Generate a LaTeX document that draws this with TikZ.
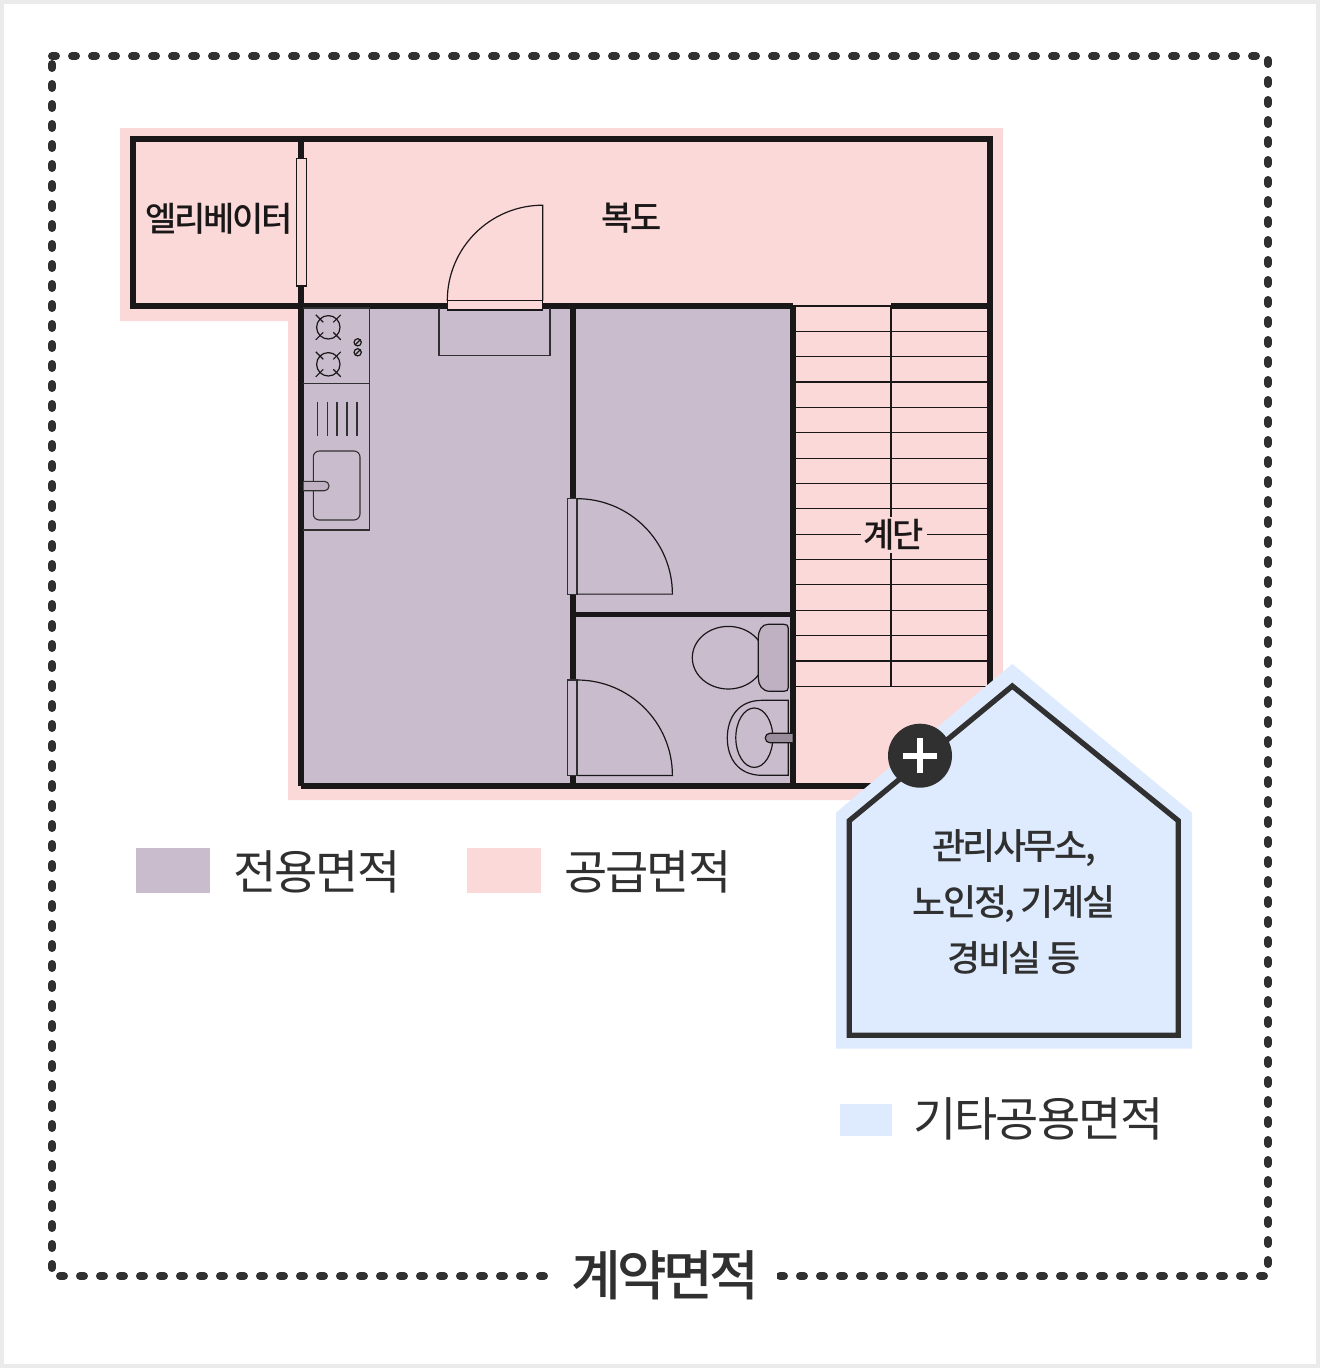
\documentclass[tikz,border=0pt]{standalone}
\usepackage{fontspec}
\setmainfont{Noto Sans CJK KR}[LetterSpace=-4]
\newfontfamily\medfont{Noto Sans CJK KR Medium}[LetterSpace=-7]
\usetikzlibrary{positioning}
\definecolor{privatePurple}{HTML}{C9BDCD}
\definecolor{supplyPink}{HTML}{FCD9D9}
\definecolor{otherBlue}{HTML}{DEEBFE}
\definecolor{wallBlack}{HTML}{1A1718}
\definecolor{inkGray}{HTML}{303030}
\definecolor{fixtureGray}{HTML}{BFB0C2}

\begin{document}
\begin{tikzpicture}[x=1pt, y=-1pt,
    wall/.style={draw=wallBlack, line width=5.6pt, miter limit=10},
    fine/.style={draw=wallBlack, line width=1.2pt},
    fixture/.style={draw=inkGray, line width=1.1pt},
    legendText/.style={font=\fontsize{47}{50}\selectfont, text=inkGray, inner sep=0pt},
    planText/.style={font=\medfont\fontsize{34}{38}\selectfont, text=wallBlack, inner sep=0pt},
    swatch/.style={inner sep=0pt, minimum width=74pt, minimum height=45pt}]
    \useasboundingbox (0,0) rectangle (1320,1368);
    \fill[black!8] (0,0) rectangle (1320,1368);
    \fill[white] (4,4) rectangle (1316,1364);
    % contract frame
    \draw[inkGray, line width=8pt, line cap=round, dash pattern=on 4pt off 16pt]
      (52,56) -- (1268,56) -- (1268,1276) -- (52,1276) -- cycle;
    \node[fill=white, minimum width=229pt, minimum height=20pt, inner sep=0pt] (contractGap) at (662.5,1276) {};
    \node[font=\medfont\fontsize{54}{58}\selectfont, text=inkGray, inner sep=0pt] (contract) at (665,1275) {계약면적};
    % areas
    \fill[supplyPink] (120,128) -- (1003,128) -- (1003,800) -- (288,800) -- (288,321) -- (120,321) -- cycle;
    \fill[privatePurple] (301,306) rectangle (793,786);
    % stairs
    \foreach \k in {0,...,15}
      \draw[fine] (793,306+25.35*\k) -- (990,306+25.35*\k);
    \draw[fine] (891,306) -- (891,686);
    % walls
    \draw[wall] (301,306) -- (133,306) -- (133,139) -- (990,139) -- (990,700);
    \draw[wall] (301,139) -- (301,786);
    \draw[wall] (301,306) -- (793,306);
    \draw[wall] (891,306) -- (990,306);
    \draw[wall] (573,306) -- (573,786);
    \draw[wall] (573,614.5) -- (793,614.5);
    \draw[wall] (793,306) -- (793,789);
    \draw[wall] (301,786) -- (880,786);
    % elevator and front door
    \draw[fine, fill=supplyPink] (296.5,158.5) rectangle (306.5,286);
    \draw[fixture] (439,308) -- (439,355.7) -- (550,355.7) -- (550,308);
    \draw[fine, fill=supplyPink] (447.3,300.7) rectangle (542.7,310);
    \draw[fine] (447.3,300.7) arc[start angle=180, end angle=270, radius=95.5] -- (542.7,300.7);
    % room doors
    \foreach \y in {498.7,680} {
      \draw[fixture, fill=privatePurple] (567.5,\y) rectangle (577,\y+95.4);
      \draw[fine] (577,\y) arc[start angle=270, end angle=360, radius=95.4] -- (577,\y+95.4);
    }
    % kitchen
    \draw[fixture] (303,308) -- (369.7,308) -- (369.7,530) -- (303,530);
    \draw[fixture] (303,383.7) -- (369.7,383.7);
    \foreach \y in {327.3,364.3} {
      \draw[fine] (328.3,\y) circle[radius=11.7];
      \foreach \a/\b in {-1/-1,1/-1,-1/1,1/1}
        \draw[fine] (328.3+\a*12.5,\y+\b*12.5) -- (328.3+\a*5,\y+\b*5);
    }
    \foreach \y in {342.3,352.3} {
      \draw[fine] (357.7,\y) circle[radius=3.6];
      \draw[fine] (355,\y+2.7) -- (360.4,\y-2.7);
    }
    \foreach \x in {317.3,327.3,337,347,357}
      \draw[fixture] (\x,401.7) -- (\x,435.7);
    \draw[fixture, rounded corners=6pt] (313.3,451) rectangle (360,520);
    \draw[fixture, fill=fixtureGray, rounded corners=4.5pt] (303.7,481.3) -- (329,481.3) -- (329,490.7) -- (303.7,490.7);
    % toilet
    \draw[fine] (728.3,657.7) ellipse[x radius=36, y radius=31.3];
    \draw[fine, fill=fixtureGray] (768,624.3) -- (784,624.3) .. controls (787,624.3) and (788.3,625.5) .. (788.3,628.3)
      -- (788.3,687.3) .. controls (788.3,690) and (787,691.3) .. (784,691.3) -- (770,691.3)
      .. controls (762,691.3) and (758.3,685) .. (758.3,678) -- (758.3,638)
      .. controls (758.3,630) and (762,624.3) .. (768,624.3) -- cycle;
    \draw[fine] (788.3,700.3) -- (762,700.3) .. controls (738,700.3) and (727.3,718) .. (727.3,738)
      .. controls (727.3,758) and (738,775.3) .. (762,775.3) -- (788.3,775.3) -- cycle;
    \draw[fine] (754.3,737.7) ellipse[x radius=18.5, y radius=29.7];
    \draw[fine, fill=fixtureGray!80!black, rounded corners=4.5pt] (792.7,733.3) -- (765.3,733.3) -- (765.3,742.7) -- (792.7,742.7);
    % other common area
    \fill[otherBlue] (1012.3,664) -- (1192,812.7) -- (1192,1048.7) -- (836,1048.7) -- (836,812.7) -- cycle;
    \draw[inkGray, line width=5.3pt, miter limit=10, fill=otherBlue]
      (1012.3,686) -- (1178.3,820.7) -- (1178.3,1035.3) -- (849.3,1035.3) -- (849.3,820.7) -- cycle;
    \node[circle, fill=inkGray, minimum size=64pt, inner sep=0pt] (plus) at (920,755.7) {};
    \draw[white, line width=6.3pt] ([xshift=-17.4pt]plus.center) -- ([xshift=17.4pt]plus.center);
    \draw[white, line width=6.3pt] ([yshift=-17.4pt]plus.center) -- ([yshift=17.4pt]plus.center);
    % labels
    \node[planText] (elevator) at (219,219) {엘리베이터};
    \node[planText] (corridor) at (632,218) {복도};
    \node[planText, fill=supplyPink, minimum width=66pt, minimum height=36pt] (stairs) at (894,534.5) {계단};
    \node[font=\medfont\fontsize{36}{56}\selectfont, text=inkGray, align=center, inner sep=0pt] (houseText) at (1014,902) {관리사무소,\\노인정, 기계실\\경비실 등};
    % legend
    \node[swatch, fill=privatePurple] (privateBox) at (173,870.5) {};
    \node[legendText, anchor=west] (privateText) at (233,871.5) {전용면적};
    \node[swatch, fill=supplyPink] (supplyBox) at (504,870.5) {};
    \node[legendText, anchor=west] (supplyText) at (564,871.5) {공급면적};
    \node[swatch, fill=otherBlue, minimum width=52pt, minimum height=32pt] (otherBox) at (866,1120) {};
    \node[legendText, anchor=west] (otherText) at (913,1119) {기타공용면적};
\end{tikzpicture}
\end{document}
